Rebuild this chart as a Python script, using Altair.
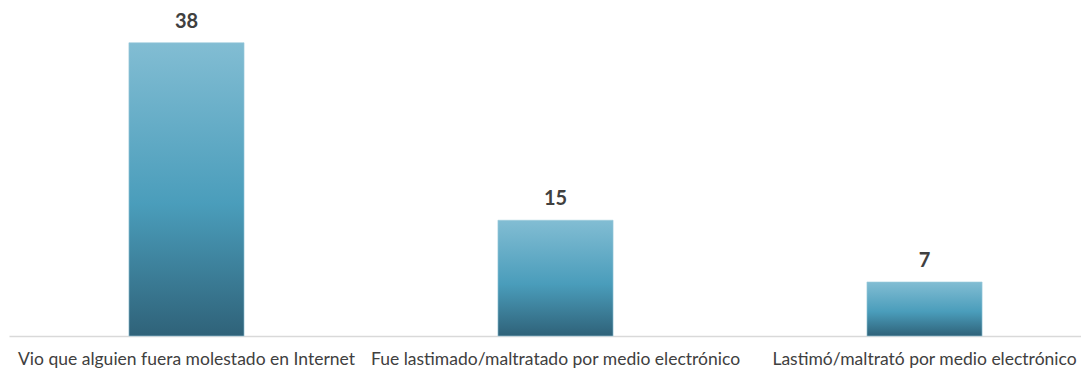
import altair as alt
import pandas as pd

categories = ["Vio que alguien fuera molestado en Internet",
              "Fue lastimado/maltratado por medio electrónico",
              "Lastimó/maltrató por medio electrónico"]
values = [38, 15, 7]

df = pd.DataFrame({"cat": categories, "val": values})

grad = alt.Gradient(
    gradient="linear", x1=0, x2=0, y1=0, y2=1,
    stops=[alt.GradientStop(color="#82bdd3", offset=0),
           alt.GradientStop(color="#4a9dbb", offset=0.55),
           alt.GradientStop(color="#2f6279", offset=1)])

x = alt.X("cat:N", sort=categories, title=None,
          scale=alt.Scale(paddingInner=0.688, paddingOuter=0.2965, align=0.548),
          axis=alt.Axis(labelAngle=0, labelFont="Lato", labelFontSize=17.5,
                        labelColor="#404040", labelPadding=14, ticks=False,
                        domainColor="#d9d9d9", domainWidth=1.5, labelLimit=420))
y = alt.Y("val:Q", title=None, scale=alt.Scale(domain=[0, 42.5], nice=False), axis=None)

bars = alt.Chart(df).mark_bar(color=grad, stroke="#9ccbdc", strokeWidth=0.6).encode(x=x, y=y)
text = alt.Chart(df).mark_text(dy=-15, baseline="alphabetic", font="Lato", fontSize=20,
                               fontWeight="bold", color="#404040").encode(
    x=alt.X("cat:N", sort=categories), y="val:Q", text="val:Q")

chart = (bars + text).properties(
    width=1072, height=328,
    padding={"left": 1, "right": 0, "top": 0, "bottom": 0}
).configure_view(stroke=None)

chart.save("out.html", embed_options={"renderer": "svg", "actions": False})
